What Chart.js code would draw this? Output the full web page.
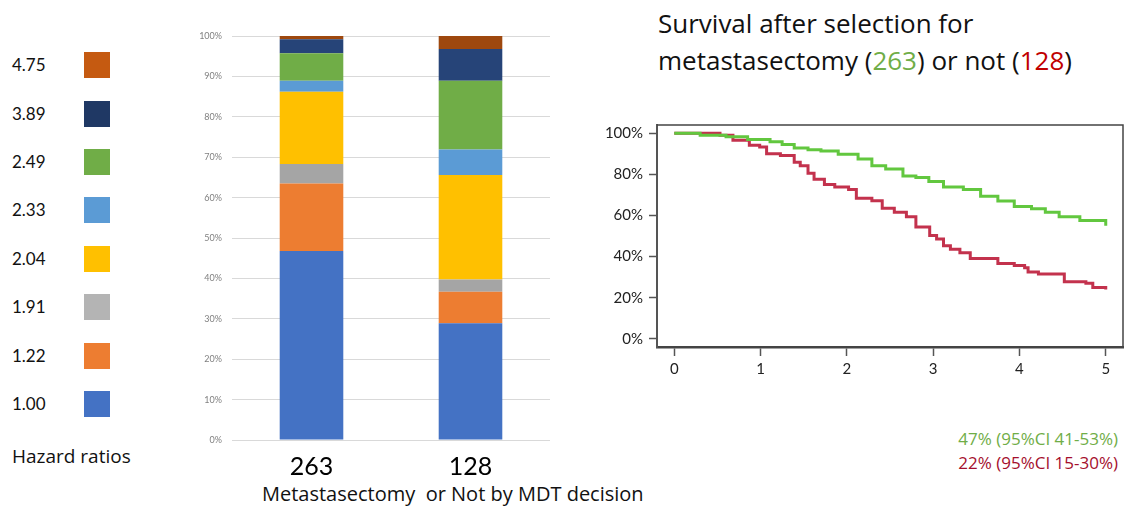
<!DOCTYPE html>
<html>
<head>
<meta charset="utf-8">
<script src="https://cdn.jsdelivr.net/npm/chart.js@4.4.1/dist/chart.umd.min.js"></script>
<style>
  body { margin: 0; width: 1125px; height: 509px; background: #fff; position: relative; overflow: hidden; font-family: "Open Sans", Lato, sans-serif; color: #111; }
  .abs { position: absolute; white-space: pre; }
  #legend .row { position: absolute; left: 12px; height: 26px; line-height: 26px; font-size: 17px; font-family: Lato, sans-serif; }
  #legend .sw { position: absolute; left: 84px; width: 26px; height: 26px; }
  #barWrap { position: absolute; left: 150px; top: 20px; width: 410px; height: 460px; }
  #kmWrap { position: absolute; left: 590px; top: 105px; width: 535px; height: 277px; }
</style>
</head>
<body>
<div id="legend"></div>
<div class="abs" style="left:12px; top:443px; font-size:19px;">Hazard ratios</div>
<div class="abs" style="left:262px; top:480px; font-size:20px;">Metastasectomy  or Not by MDT decision</div>
<div class="abs" style="left:658px; top:5px; font-size:26px; line-height:37px;">Survival after selection for
metastasectomy (<span style="color:#70AD47">263</span>) or not (<span style="color:#C00000">128</span>)</div>
<div class="abs" style="right:7px; top:427px; font-size:17px; line-height:24px; text-align:right;"><span style="color:#70AD47">47% (95%CI 41-53%)</span>
<span style="color:#A50F2D">22% (95%CI 15-30%)</span></div>

<div id="barWrap"><canvas id="bars"></canvas></div>
<div id="kmWrap"><canvas id="km"></canvas></div>

<script>
// stacked bars: share of patients per hazard-ratio group (%)
const groups = ["263", "128"];
const hazardRatios = ["1.00", "1.22", "1.91", "2.04", "2.33", "2.49", "3.89", "4.75"];
const hrColors = ["#4472C4", "#ED7D31", "#A5A5A5", "#FFC000", "#5B9BD5", "#70AD47", "#264478", "#9E480E"];
const legendColors = ["#4472C4", "#ED7D31", "#B4B4B4", "#FFC000", "#5B9BD5", "#70AD47", "#1F3864", "#C55A11"];
const share263 = [46.8, 16.7, 4.8, 17.9, 2.7, 6.8, 3.5, 0.8];
const share128 = [28.9, 7.8, 3.0, 25.9, 6.3, 17.0, 7.9, 3.2];
const pctTicks = [0, 10, 20, 30, 40, 50, 60, 70, 80, 90, 100];

// Kaplan-Meier curves (years, survival %)
const metT = [0, 0.3, 0.6, 0.85, 1.11, 1.25, 1.39, 1.55, 1.70, 1.9, 2.13, 2.29, 2.45, 2.65, 2.80, 2.95, 3.12, 3.35, 3.55, 3.75, 3.94, 4.14, 4.3, 4.46, 4.7, 5.0];
const metS = [100, 99, 98.3, 97, 95.8, 94.5, 92.8, 92, 91.3, 89.8, 87.5, 84.2, 82.6, 79.2, 78.4, 76.5, 73.8, 72.6, 69.3, 67, 64.3, 63.2, 61.5, 59.4, 57.5, 55];
const notT = [0, 0.25, 0.53, 0.68, 0.87, 0.99, 1.07, 1.23, 1.39, 1.46, 1.55, 1.62, 1.74, 1.86, 2.02, 2.11, 2.29, 2.41, 2.55, 2.69, 2.80, 2.96, 3.04, 3.12, 3.20, 3.31, 3.43, 3.59, 3.75, 3.94, 4.06, 4.10, 4.22, 4.45, 4.52, 4.77, 4.85, 5.0];
const notS = [100, 100, 99, 96.6, 94.2, 93.3, 90, 89.2, 85.9, 84.2, 80.5, 77.6, 75.1, 73.8, 72.6, 68.4, 67.1, 63.5, 61.5, 59.4, 54.4, 50.2, 48.5, 45.2, 43.6, 41.9, 39.1, 39.1, 36.6, 35.6, 34.5, 32.5, 31.5, 31.5, 27.8, 27, 24.9, 24];
const yearTicks = [0, 1, 2, 3, 4, 5];
const survTicks = [0, 20, 40, 60, 80, 100];

// legend on the left, top item is the highest hazard ratio
const legend = document.getElementById("legend");
hazardRatios.forEach((hr, i) => {
  const top = 404 - 13 - i * 48.4;
  legend.innerHTML += `<div class="row" style="top:${top}px">${hr}</div>` +
    `<div class="sw" style="top:${top}px;background:${legendColors[i]}"></div>`;
});

new Chart(document.getElementById("bars"), {
  type: "bar",
  data: {
    labels: groups,
    datasets: hazardRatios.map((hr, i) => ({
      label: hr,
      data: [share263[i], share128[i]],
      backgroundColor: hrColors[i],
      barPercentage: 0.4,
      categoryPercentage: 1
    }))
  },
  options: {
    responsive: true,
    maintainAspectRatio: false,
    animation: false,
    layout: { padding: { top: 16, right: 10 } },
    plugins: { legend: { display: false }, tooltip: { enabled: false } },
    scales: {
      x: {
        stacked: true,
        grid: { display: false },
        border: { display: false },
        ticks: { color: "#000", font: { family: "Lato", size: 25 }, padding: 4 },
        afterFit: (s) => { s.height = 40; }
      },
      y: {
        stacked: true,
        min: 0,
        max: 100,
        afterBuildTicks: (s) => { s.ticks = pctTicks.map((v) => ({ value: v })); },
        grid: { color: "#D9D9D9", drawTicks: false },
        border: { display: false },
        ticks: { color: "#808080", font: { family: "Lato", size: 9 }, padding: 10, callback: (v) => v + "%" },
        afterFit: (s) => { s.width = 82; }
      }
    }
  }
});

const boxPlugin = {
  id: "box",
  afterDraw(chart) {
    const { ctx, chartArea: a } = chart;
    ctx.save();
    ctx.strokeStyle = "#444";
    ctx.lineWidth = 1.5;
    ctx.beginPath();
    ctx.moveTo(a.left, a.top);
    ctx.lineTo(a.right, a.top);
    ctx.lineTo(a.right, a.bottom);
    ctx.stroke();
    ctx.restore();
  }
};

new Chart(document.getElementById("km"), {
  type: "line",
  data: {
    datasets: [
      {
        label: "Metastasectomy",
        data: metT.map((t, i) => ({ x: t, y: metS[i] })),
        borderColor: "#62C73F",
        borderWidth: 3,
        stepped: true,
        pointRadius: 0
      },
      {
        label: "Not",
        data: notT.map((t, i) => ({ x: t, y: notS[i] })),
        borderColor: "#C3324D",
        borderWidth: 3,
        stepped: true,
        pointRadius: 0
      }
    ]
  },
  options: {
    responsive: true,
    maintainAspectRatio: false,
    animation: false,
    layout: { padding: { top: 20, right: 2 } },
    plugins: { legend: { display: false }, tooltip: { enabled: false } },
    scales: {
      x: {
        type: "linear",
        min: -0.2,
        max: 5.2,
        afterBuildTicks: (s) => { s.ticks = yearTicks.map((v) => ({ value: v })); },
        grid: { drawOnChartArea: false, tickLength: 9, tickColor: "#555", tickWidth: 1.5 },
        border: { color: "#444", width: 2.5 },
        ticks: { color: "#222", font: { family: "Lato", size: 15 }, padding: 4 },
        afterFit: (s) => { s.height = 35; }
      },
      y: {
        min: -4,
        max: 104,
        afterBuildTicks: (s) => { s.ticks = survTicks.map((v) => ({ value: v })); },
        grid: { drawOnChartArea: false, tickLength: 8, tickColor: "#555", tickWidth: 1.5 },
        border: { color: "#555", width: 2 },
        ticks: { color: "#222", font: { family: "Lato", size: 15 }, padding: 6, callback: (v) => v + "%" },
        afterFit: (s) => { s.width = 67; }
      }
    }
  },
  plugins: [boxPlugin]
});
</script>
</body>
</html>
